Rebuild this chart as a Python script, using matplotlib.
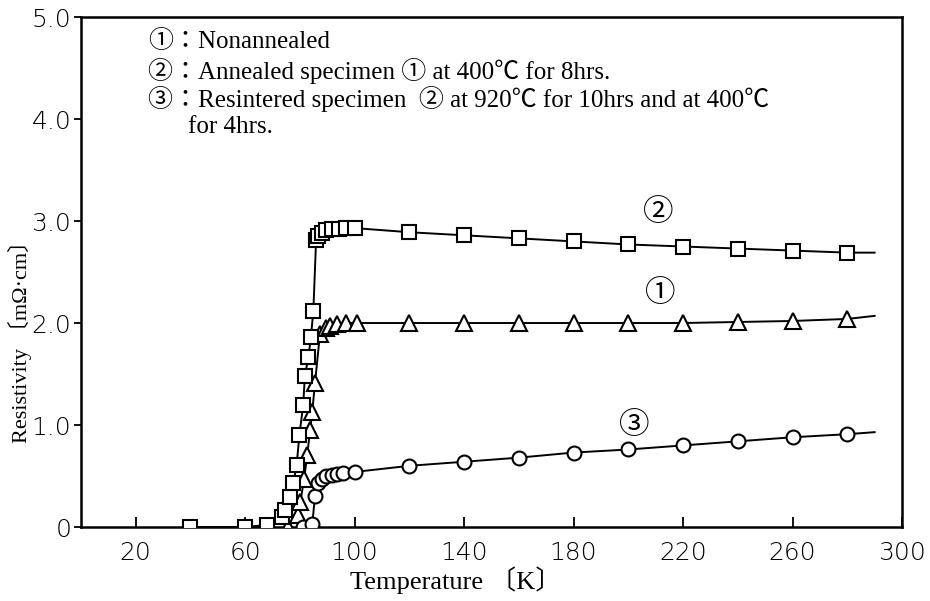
import matplotlib
matplotlib.use("Agg")
import matplotlib.pyplot as plt
import numpy as np

# (1) nonannealed - triangles
t1 = [75.5, 79.4, 80.2, 81.5, 82.7, 83.7, 84.5, 85.5, 87.3, 89.5, 91.0, 93.6, 97.0, 100.7,
      120, 140, 160, 180, 200, 220, 240, 260, 280]
r1 = [0.0, 0.12, 0.25, 0.47, 0.71, 0.95, 1.13, 1.41, 1.89, 1.95, 1.97, 1.99, 2.0, 2.0,
      2.0, 2.0, 2.0, 2.0, 2.0, 2.0, 2.01, 2.02, 2.04]
# (2) annealed - squares
t2 = [40, 60, 68, 73.3, 74.5, 76.4, 77.6, 78.8, 79.8, 81.2, 81.8, 83.1, 84.0, 84.9,
      85.9, 86.7, 87.9, 89.5, 91.6, 94.1, 96.8, 100.3,
      120, 140, 160, 180, 200, 220, 240, 260, 280]
r2 = [0.0, 0.0, 0.02, 0.10, 0.17, 0.29, 0.43, 0.61, 0.90, 1.20, 1.48, 1.67, 1.86, 2.12,
      2.81, 2.85, 2.88, 2.91, 2.92, 2.92, 2.93, 2.93,
      2.89, 2.86, 2.83, 2.80, 2.77, 2.75, 2.73, 2.71, 2.69]
# (3) resintered - circles
t3 = [81, 84.5, 85.5, 86.7, 87.9, 89.7, 91.6, 93.4, 95.8, 100,
      120, 140, 160, 180, 200, 220, 240, 260, 280]
r3 = [0.0, 0.03, 0.30, 0.43, 0.47, 0.50, 0.51, 0.52, 0.53, 0.54,
      0.60, 0.64, 0.68, 0.73, 0.76, 0.80, 0.84, 0.88, 0.91]
# where the drawn curves end
t_end = 290
r_end = [2.07, 2.69, 0.93]

xticks = [20, 60, 100, 140, 180, 220, 260, 300]
yticks = [0, 1, 2, 3, 4, 5]
ylabels = ["0", "1.0", "2.0", "3.0", "4.0", "5.0"]

serif = ["Liberation Serif", "Noto Sans CJK JP", "DejaVu Sans"]
cjk = ["Noto Sans CJK JP", "DejaVu Sans"]

fig = plt.figure(figsize=(9.3, 6.01), dpi=100)
ax = fig.add_axes([0.0871, 0.1231, 0.8828, 0.8486])

for t, r, re, m, ms in [(t1, r1, r_end[0], "^", 11), (t2, r2, r_end[1], "s", 10), (t3, r3, r_end[2], "o", 10)]:
    ax.plot(t + [t_end], r + [re], "-", color="black", lw=1.4, zorder=2)
    ax.plot(t, r, m, ms=ms, mfc="white", mec="black", mew=1.5, ls="none", zorder=3)

ax.set_xlim(0, 300)
ax.set_ylim(0, 5)
ax.set_xticks(xticks)
ax.set_xticklabels([str(v) for v in xticks])
ax.set_yticks(yticks)
ax.set_yticklabels(ylabels)
ax.tick_params(axis="x", direction="in", length=7, width=1.3, labelsize=18, pad=10)
ax.tick_params(axis="y", direction="out", length=5, width=1.3, labelsize=18, pad=2)
for lab in ax.get_xticklabels() + ax.get_yticklabels():
    lab.set_fontweight("light")
for s in ax.spines.values():
    s.set_linewidth(1.8)

# curve labels
ax.text(211, 3.08, "②", fontsize=22, ha="center", va="center", family=cjk)
ax.text(211.5, 2.29, "①", fontsize=22, ha="center", va="center", family=cjk)
ax.text(202, 1.0, "③", fontsize=22, ha="center", va="center", family=cjk)

# notes
notes = ["①：Nonannealed",
         "②：Annealed specimen ① at 400℃ for 8hrs.",
         "③：Resintered specimen  ② at 920℃ for 10hrs and at 400℃"]
ys = [0.951, 0.894, 0.839]
for s, y in zip(notes, ys):
    ax.text(0.082, y, s, transform=ax.transAxes, fontsize=18, va="center", family=serif)
ax.text(0.130, 0.784, "for 4hrs.", transform=ax.transAxes, fontsize=18, va="center", family=serif)

fig.text(0.49, 0.035, "Temperature 〔K〕", fontsize=19, ha="center", va="center", family=serif)
fig.text(0.022, 0.44, "Resistivity 〔mΩ·cm〕", fontsize=16, ha="center", va="center",
         rotation=90, family=serif)

fig.savefig("out.png", dpi=100)
